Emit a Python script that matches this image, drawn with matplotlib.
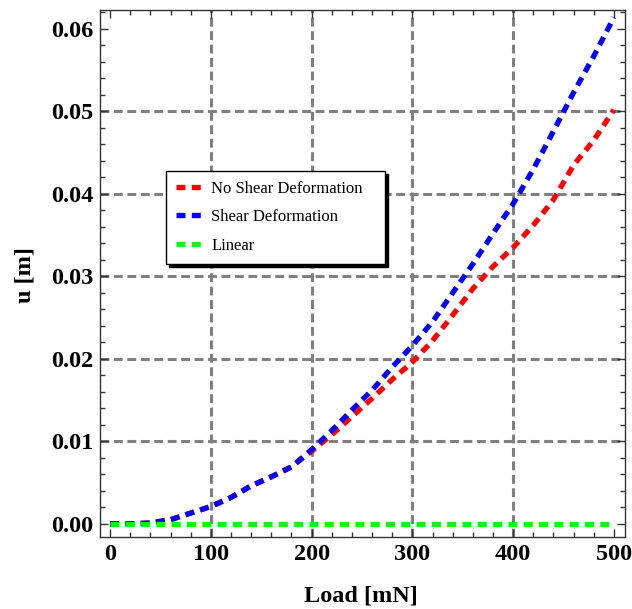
import matplotlib
matplotlib.use("Agg")
import matplotlib.pyplot as plt
from matplotlib.ticker import MultipleLocator, FormatStrFormatter

# ---- data ----
load = [0, 20, 40, 60, 80, 100, 120, 140, 160, 180, 200, 220, 240, 260, 280,
        300, 320, 340, 360, 380, 400, 420, 440, 460, 480, 500]
no_shear = [0.0, 0.0, 0.0001, 0.0005, 0.0013, 0.0021, 0.0032, 0.0046, 0.0057, 0.0069,
            0.0088, 0.0108, 0.0130, 0.0152, 0.0175, 0.0196, 0.0222, 0.0253, 0.0285,
            0.0312, 0.0335, 0.0362, 0.0393, 0.0435, 0.0465, 0.0502]
shear = [0.0, 0.0, 0.0001, 0.0005, 0.0013, 0.0021, 0.0032, 0.0046, 0.0057, 0.0069,
         0.0090, 0.0113, 0.0138, 0.0162, 0.0190, 0.0216, 0.0245, 0.0280, 0.0315,
         0.0352, 0.0388, 0.0430, 0.0476, 0.0523, 0.0567, 0.0614]
linear = [0.0] * len(load)

series_labels = ["No Shear Deformation", "Shear Deformation", "Linear"]
series_colors = ["#ff0000", "#0000ff", "#00ff00"]
x_grid = [100, 200, 300, 400]
y_grid = [0.01, 0.02, 0.03, 0.04, 0.05]
x_label = "Load [mN]"
y_label = "u [m]"

# ---- figure ----
plt.rcParams['font.family'] = ['Liberation Serif', 'DejaVu Serif']
fig = plt.figure(figsize=(6.32, 6.09), dpi=100)
ax = fig.add_axes([100 / 632, 72 / 609, 525 / 632, 527 / 609])

grid_kw = dict(color="#808080", lw=2.2, dashes=(2.9, 1.5), zorder=1)
for gx in x_grid:
    ax.axvline(gx, **grid_kw)
for gy in y_grid:
    ax.axhline(gy, **grid_kw)

line_kw = dict(lw=3.8, dashes=(1.7, 1.2), solid_capstyle="butt", dash_capstyle="butt", zorder=3)
ax.plot(load, no_shear, color=series_colors[0], label=series_labels[0], **line_kw)
ax.plot(load, shear, color=series_colors[1], label=series_labels[1], **line_kw)
ax.plot(load, linear, color=series_colors[2], label=series_labels[2], **line_kw)

ax.set_xlim(-10, 511)
ax.set_ylim(-0.0016, 0.0623)

ax.xaxis.set_major_locator(MultipleLocator(100))
ax.xaxis.set_minor_locator(MultipleLocator(20))
ax.yaxis.set_major_locator(MultipleLocator(0.01))
ax.yaxis.set_minor_locator(MultipleLocator(0.002))
ax.yaxis.set_major_formatter(FormatStrFormatter("%.2f"))

ax.tick_params(which="both", direction="in", top=True, right=True, color="#333333",
               labelsize=17.5, width=1)
ax.tick_params(which="major", length=6, pad=5)
ax.tick_params(which="minor", length=3.5)
for lab in ax.get_xticklabels() + ax.get_yticklabels():
    lab.set_fontweight("bold")

for sp in ax.spines.values():
    sp.set_color("#333333")
    sp.set_linewidth(1.0)

ax.set_xlabel(x_label, fontsize=17.5, fontweight="bold", va="center")
ax.xaxis.set_label_coords(0.497, -0.112)
ax.set_ylabel(y_label, fontsize=17.5, fontweight="bold", va="center")
ax.yaxis.set_label_coords(-0.143, 0.497)

leg = ax.legend(loc="upper left", bbox_to_anchor=(0.126, 0.514, 0.417, 0.181),
                mode="expand", borderaxespad=0, fontsize=12, frameon=True,
                fancybox=False, shadow={"color": "black", "alpha": 1},
                handlelength=1.6, handletextpad=0.5, labelspacing=0.75,
                borderpad=0.6)
leg.get_frame().set_edgecolor("black")
leg.get_frame().set_linewidth(1.0)
leg.set_zorder(5)

fig.savefig("out.png", dpi=100)
